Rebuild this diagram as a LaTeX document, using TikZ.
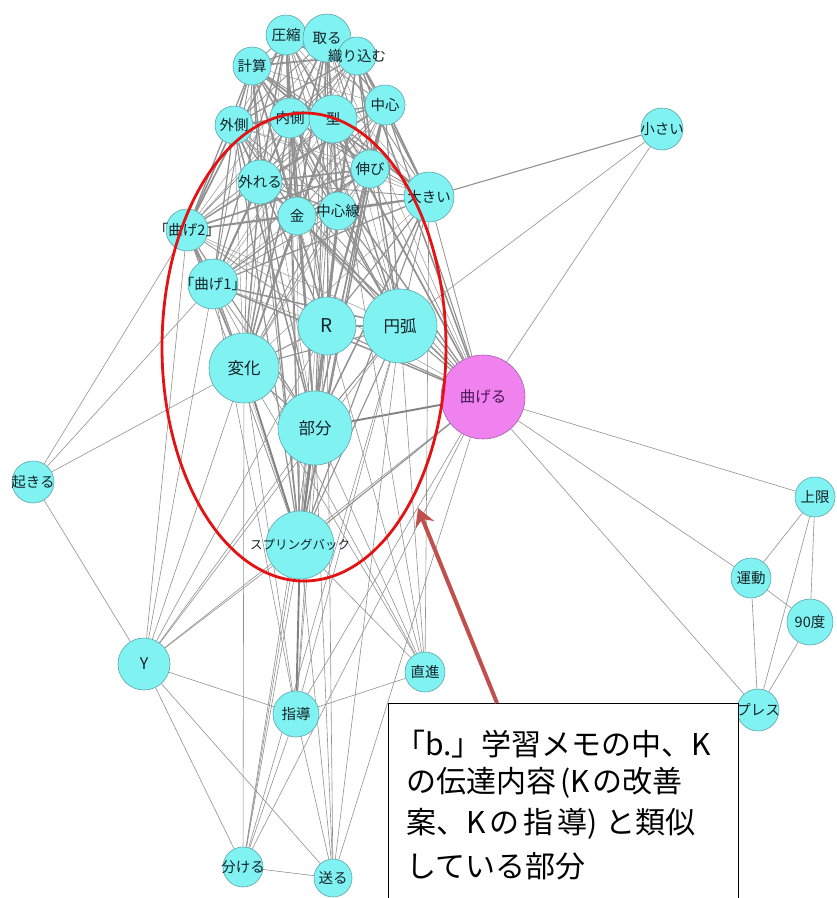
\documentclass[tikz,border=0pt]{standalone}
\usepackage{fontspec}
\setmainfont{Noto Sans CJK JP}
\usetikzlibrary{shapes.geometric,arrows.meta,backgrounds}

\definecolor{nodecyan}{RGB}{128,242,242}
\definecolor{nodeedge}{RGB}{95,165,170}
\definecolor{nodemag}{RGB}{240,130,240}
\definecolor{magedge}{RGB}{165,95,170}
\definecolor{linkgray}{RGB}{145,145,145}
\definecolor{ringred}{RGB}{228,18,18}
\definecolor{arrowred}{RGB}{192,80,77}

% word node: name, x, y, radius, label (the label may run past the circle)
\newcommand\wordnode[5]{\node[word, minimum size=2*#4pt] (#1) at (#2,#3) {\makebox[0pt]{#5}};}

\begin{document}
\begin{tikzpicture}[x=1pt,y=-1pt,
  word/.style={circle, fill=nodecyan, draw=nodeedge, line width=0.6pt,
    inner sep=0pt, text={rgb,255:red,20;green,35;blue,40},
    font=\fontsize{14.5}{15}\selectfont},
  bigword/.style={word, font=\fontsize{16.5}{17}\selectfont},
  hubword/.style={word, fill=nodemag, draw=magedge,
    text={rgb,255:red,75;green,20;blue,85}, font=\fontsize{15.5}{16}\selectfont},
  link/.style={draw=linkgray, line width=0.6pt},
  midlink/.style={draw=linkgray, line width=1.1pt},
  heavylink/.style={draw=linkgray!90!black, line width=1.9pt},
  memoline/.style={anchor=west, inner sep=0pt, font=\fontsize{30}{30}\selectfont}
]
\useasboundingbox (0,0) rectangle (837,898);

% ---- words ----
\wordnode{ak}{286}{35}{20}{圧縮}
\wordnode{tor}{327}{38}{24}{取る}
\wordnode{ori}{357}{56}{19}{織り込む}
\wordnode{kei}{252}{66}{19}{計算}
\wordnode{sot}{234}{125}{19}{外側}
\wordnode{uchi}{290}{118}{20}{内側}
\wordnode{kata}{333}{119}{24}{型}
\wordnode{chu}{385}{105}{20}{中心}
\wordnode{nob}{370}{169}{19}{伸び}
\wordnode{haz}{260}{182}{22}{外れる}
\wordnode{kin}{297}{216}{19}{金}
\wordnode{csen}{338}{211}{19}{中心線}
\wordnode{oki}{429}{197}{25}{大きい}
\wordnode{mgb}{187}{230}{21}{「曲げ2」}
\wordnode{mga}{213}{284}{25}{「曲げ1」}
\node[bigword, minimum size=58pt, font=\fontsize{19}{19}\selectfont] (R) at (327,326) {\makebox[0pt]{R}};
\node[bigword, minimum size=74pt] (enk) at (400,326) {\makebox[0pt]{円弧}};
\node[bigword, minimum size=70pt] (hen) at (244,368) {\makebox[0pt]{変化}};
\node[bigword, minimum size=74pt] (bub) at (315,428) {\makebox[0pt]{部分}};
\node[hubword, minimum size=84pt] (mag) at (483,397) {\makebox[0pt]{曲げる}};
\wordnode{chi}{662}{129}{21}{小さい}
\wordnode{oko}{33}{482}{21}{起きる}
\node[word, minimum size=68pt, font=\fontsize{12.5}{13}\selectfont] (spb) at (300,545) {\makebox[0pt]{スプリングバック}};
\wordnode{choku}{425}{672}{20}{直進}
\wordnode{shi}{296}{714}{23}{指導}
\node[word, minimum size=52pt, font=\fontsize{16}{16}\selectfont] (Y) at (144,664) {\makebox[0pt]{Y}};
\wordnode{wak}{243}{867}{20}{分ける}
\wordnode{oku}{333}{878}{19}{送る}
\wordnode{jog}{815}{497}{20}{上限}
\wordnode{und}{751}{578}{20}{運動}
\wordnode{kyu}{810}{622}{23}{90度}
\wordnode{pre}{758}{710}{21}{プレス}

% ---- co-occurrence links ----
\begin{scope}[on background layer]
  % dense upper cluster: every pair
  \foreach \a [count=\i] in {ak,tor,ori,kei,sot,uchi,kata,chu,nob,haz,kin,csen,oki,mgb,mga}{
    \foreach \b [count=\j] in {ak,tor,ori,kei,sot,uchi,kata,chu,nob,haz,kin,csen,oki,mgb,mga}{
      \ifnum\j>\i
        \pgfmathsetmacro\lw{0.45+0.4*mod(\i*5+\j*3,4)}
        \draw[link, line width=\lw pt] (\a) -- (\b);
      \fi
    }
  }
  % upper cluster to the central words
  \foreach \a [count=\i] in {ak,tor,ori,kei,sot,uchi,kata,chu,nob,haz,kin,csen,oki,mgb,mga}{
    \foreach \b [count=\j] in {R,enk,hen,bub,spb,mag}{
      \pgfmathsetmacro\lw{0.45+0.35*mod(\i*3+\j*7,4)}
      \draw[link, line width=\lw pt] (\a) -- (\b);
    }
  }
  % central words
  \foreach \a/\b in {R/enk,R/hen,R/bub,R/spb,enk/bub,enk/hen,hen/bub,R/mag,enk/mag,spb/mag,enk/spb}
    \draw[midlink] (\a) -- (\b);
  \foreach \a/\b in {hen/spb,bub/spb,bub/mag}
    \draw[heavylink] (\a) -- (\b);
  % left and lower words
  \foreach \a/\b in {oko/mgb,oko/mga,oko/hen,oko/Y,
      Y/mga,Y/mgb,Y/hen,Y/R,Y/bub,Y/spb,Y/enk,Y/mag,Y/shi,Y/wak,Y/oku,
      shi/bub,shi/R,shi/hen,shi/enk,shi/mag,shi/choku,shi/wak,shi/oku,shi/mga,
      wak/oku,wak/spb,wak/hen,wak/R,wak/bub,wak/enk,wak/mag,
      oku/spb,oku/bub,oku/enk,oku/mag,oku/R,
      choku/R,choku/hen,choku/bub,choku/enk,choku/oki,choku/mga,choku/spb,choku/kata,
      chi/enk,chi/mag,
      mag/jog,mag/und,mag/pre,
      jog/und,jog/kyu,jog/pre,und/kyu,und/pre,kyu/pre}
    \draw[link] (\a) -- (\b);
  \draw[heavylink] (shi) -- (spb);
  \draw[midlink] (chi) -- (oki);
\end{scope}

% ---- highlighted region ----
\node[ellipse, draw=ringred, line width=2.8pt, minimum width=284pt,
  minimum height=468pt, inner sep=0pt] (ring) at (304,347) {};

% ---- note box ----
\node[draw=black, line width=1.2pt, fill=white, anchor=north west,
  minimum width=350pt, minimum height=210pt, inner sep=0pt] (memo) at (388,703) {};
\node[memoline] (memoA) at (395,744) {「b.」学習メモの中、K};
\node[memoline] (memoB) at (406,783) {の伝達内容\hspace{4pt}(K\hspace{3pt}の改善};
\node[memoline] (memoC) at (406,824) {案、K\hspace{4pt}の\hspace{4pt}指\hspace{4pt}導)\hspace{8pt}と類似};
\node[memoline] (memoD) at (406,866) {している部分};

% ---- pointer from the note to the region ----
\coordinate (tail) at (497,703);
\coordinate (tip) at (418,508);
\draw[arrowred, line width=4pt, -{Stealth[length=18pt,width=20pt,inset=6pt]}] (tail) -- (tip);
\end{tikzpicture}
\end{document}
